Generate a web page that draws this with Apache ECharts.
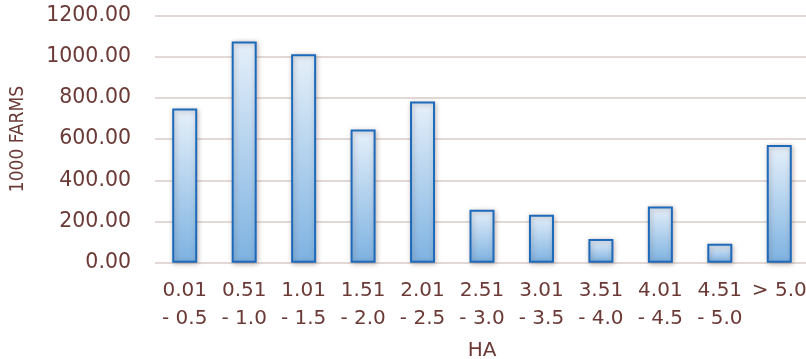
<!DOCTYPE html>
<html><head><meta charset="utf-8">
<script src="https://cdn.jsdelivr.net/npm/echarts@6/dist/echarts.min.js"></script>
<style>html,body{margin:0;padding:0;background:#fff}#c{width:806px;height:359px}</style>
</head><body><div id="c"></div>
<script>
var categories = ['0.01\n- 0.5','0.51\n- 1.0','1.01\n- 1.5','1.51\n- 2.0','2.01\n- 2.5','2.51\n- 3.0','3.01\n- 3.5','3.51\n- 4.0','4.01\n- 4.5','4.51\n- 5.0','> 5.0'];
var farms = [748, 1074, 1012, 646, 782, 257, 233, 115, 273, 92, 571];
var yTicks = {min: 0, max: 1200, interval: 200};
var txt = '#6b3a36';
var chart = echarts.init(document.getElementById('c'), null, {renderer: 'canvas'});
chart.setOption({
  animation: false,
  grid: {left: 155, right: -3, top: 15.5, bottom: 96.3, outerBoundsMode: 'none', containLabel: false},
  xAxis: {
    type: 'category', data: categories,
    name: 'HA', nameLocation: 'middle', nameGap: 78,
    nameTextStyle: {color: txt, fontSize: 20, fontFamily: 'DejaVu Sans'},
    axisLine: {show: false}, axisTick: {show: false},
    axisLabel: {color: txt, fontSize: 20, fontFamily: 'DejaVu Sans', margin: 14, lineHeight: 28, interval: 0}
  },
  yAxis: {
    type: 'value', min: yTicks.min, max: yTicks.max, interval: yTicks.interval,
    name: '1000 FARMS', nameLocation: 'middle', nameRotate: 90, nameGap: 127,
    nameTextStyle: {color: txt, fontSize: 19, fontFamily: '"DejaVu Sans Condensed", "DejaVu Sans", sans-serif'},
    axisLabel: {color: txt, fontSize: 20.5, fontFamily: 'DejaVu Sans', margin: 24,
      formatter: function(v){return v.toFixed(2);}},
    splitLine: {lineStyle: {color: '#d8ccc8', width: 1.5}},
    axisLine: {show: false}, axisTick: {show: false}
  },
  series: [{
    type: 'bar', data: farms, barWidth: 25,
    itemStyle: {
      color: new echarts.graphic.LinearGradient(0, 0, 0, 1, [
        {offset: 0, color: '#e6f0fa'}, {offset: 1, color: '#7db2e1'}]),
      borderColor: '#1b6abb', borderWidth: 2,
      shadowColor: 'rgba(90,50,40,0.35)', shadowBlur: 5, shadowOffsetX: 1, shadowOffsetY: 1
    }
  }]
});
</script></body></html>
